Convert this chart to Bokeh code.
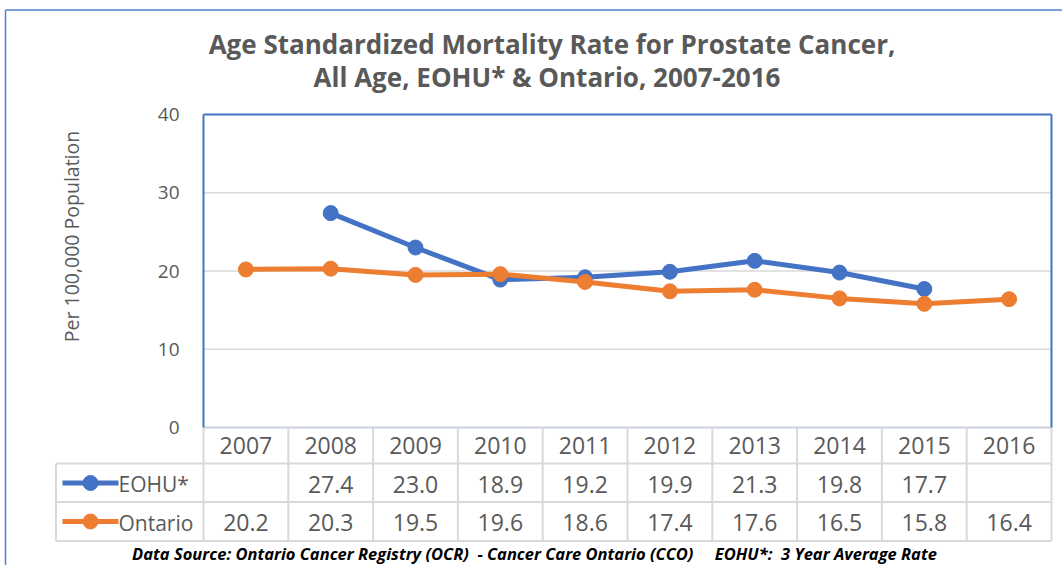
import math
from bokeh.plotting import figure
from bokeh.models import ColumnDataSource, Range1d, FixedTicker, Label
from bokeh.core.properties import value
from bokeh.embed import file_html
from bokeh.resources import INLINE

# ---------------- data ----------------
years = ["2007", "2008", "2009", "2010", "2011", "2012", "2013", "2014", "2015", "2016"]
eohu = [None, 27.4, 23.0, 18.9, 19.2, 19.9, 21.3, 19.8, 17.7, None]
ontario = [20.2, 20.3, 19.5, 19.6, 18.6, 17.4, 17.6, 16.5, 15.8, 16.4]
series_names = ["EOHU*", "Ontario"]
y_ticks = [0, 10, 20, 30, 40]

title_lines = ["Age Standardized Mortality Rate for Prostate Cancer,",
               "All Age, EOHU* & Ontario, 2007-2016"]
y_label = "Per 100,000 Population"
NB = "\u00a0"
footnote = ("Data Source: Ontario Cancer Registry (OCR) " + NB + "- Cancer Care Ontario (CCO)"
            + NB * 4 + " EOHU*:" + NB + " 3 Year Average Rate")

# ---------------- styling / layout (page pixels) ----------------
BLUE = "#4472C4"
ORANGE = "#ED7D31"
GREY_TXT = "#595959"
GRID = "#D9D9D9"
FONT = "Open Sans"

W, H = 1062, 565
n = len(years)
PLOT_L, PLOT_R, PLOT_T, PLOT_B = 203, 1051, 114, 427
Y_MAX = y_ticks[-1]
XU = (PLOT_R - PLOT_L) / n
YU = (PLOT_B - PLOT_T) / Y_MAX


def dx(px):
    return -0.5 + (px - PLOT_L) / XU


def dy(py):
    return (PLOT_B - py) / YU


p = figure(
    width=W, height=H,
    x_range=Range1d(dx(0), dx(W)), y_range=Range1d(dy(H), dy(0)),
    output_backend="svg", toolbar_location=None, x_axis_location=None,
    min_border_left=0, min_border_right=0, min_border_top=0, min_border_bottom=0,
)
p.outline_line_color = None
p.background_fill_color = "white"
p.border_fill_color = "white"
p.xgrid.visible = False
p.ygrid.visible = False

# y axis fixed at the left edge of the plot area
yax = p.yaxis[0]
yax.fixed_location = -0.5
yax.ticker = FixedTicker(ticks=y_ticks)
yax.axis_line_color = None
yax.major_tick_line_color = None
yax.minor_tick_line_color = None
yax.major_label_text_font = FONT
yax.major_label_text_font_size = "19px"
yax.major_label_text_color = GREY_TXT
yax.major_label_standoff = 18

xs = list(range(n))
x_lo, x_hi = -0.5, n - 0.5

# outer chart border (top and left)
p.segment(x0=[dx(5), dx(5)], x1=[dx(W + 5), dx(5)], y0=[dy(9.5), dy(9.5)], y1=[dy(9.5), dy(H + 5)],
          line_color="#4F7FD3", line_width=1.5)

# gridlines inside plot area
inner = y_ticks[1:-1]
p.segment(x0=[x_lo] * len(inner), x1=[x_hi] * len(inner), y0=inner, y1=inner,
          line_color=GRID, line_width=1.5)

# table lines
r1, r2, r3 = dy(463), dy(501.5), dy(540.5)
lab_l = dx(55.5)
p.segment(x0=[x_lo], x1=[x_hi], y0=[0], y1=[0], line_color="#C9D0E0", line_width=2)
p.segment(x0=[lab_l] * 3, x1=[x_hi] * 3, y0=[r1, r2, r3], y1=[r1, r2, r3],
          line_color=GRID, line_width=2)
vx = [x_lo + k for k in range(n + 1)]
p.segment(x0=vx, x1=vx, y0=[0] * len(vx), y1=[r3] * len(vx), line_color=GRID, line_width=2)
p.segment(x0=[lab_l], x1=[lab_l], y0=[r1], y1=[r3], line_color=GRID, line_width=2)

# plot area border (left, top, right)
p.segment(x0=[x_lo, x_lo, x_hi], x1=[x_lo, x_hi, x_hi], y0=[0, Y_MAX, Y_MAX], y1=[Y_MAX, Y_MAX, 0],
          line_color=BLUE, line_width=2)

# series
nan = float("nan")
eohu_v = [nan if v is None else v for v in eohu]
ont_v = [nan if v is None else v for v in ontario]
for vals, col in ((eohu_v, BLUE), (ont_v, ORANGE)):
    src = ColumnDataSource(dict(x=xs, y=vals))
    p.line("x", "y", source=src, line_color=col, line_width=5)
    p.scatter("x", "y", source=src, marker="circle", size=15, fill_color=col, line_color=col)


def fmt(v):
    return "" if v is None else f"{v:.1f}"


# table texts
TSIZE = "23px"
hy, ey, oy = dy(445), dy(483.5), dy(522)
for yy, labels in ((hy, years), (ey, [fmt(v) for v in eohu]), (oy, [fmt(v) for v in ontario])):
    p.text(x=xs, y=[yy] * n, text=labels, text_font=value(FONT), text_font_size=TSIZE,
           text_align="center", text_baseline="middle", text_color=GREY_TXT)

# legend keys in table
lx0, lx1, lxc, ltx = dx(62), dx(118), dx(90), dx(118)
for ky, ty, col, name in ((dy(482.5), ey, BLUE, series_names[0]), (dy(521), oy, ORANGE, series_names[1])):
    p.segment(x0=[lx0], x1=[lx1], y0=[ky], y1=[ky], line_color=col, line_width=5)
    p.scatter(x=[lxc], y=[ky], marker="circle", size=15, fill_color=col, line_color=col)
    p.text(x=[ltx], y=[ty], text=[name], text_font=value(FONT), text_font_size="21px",
           text_align="left", text_baseline="middle", text_color=GREY_TXT)

# title
for (cx, cy), line in zip(((551.5, 43), (546.5, 76)), title_lines):
    p.add_layout(Label(x=dx(cx), y=dy(cy), text=line, text_align="center", text_baseline="middle",
                       text_font=FONT, text_font_style="bold", text_font_size="26px",
                       text_color=GREY_TXT))

# y axis title
p.add_layout(Label(x=dx(71), y=dy(236), text=y_label, angle=math.pi / 2,
                   text_align="center", text_baseline="middle",
                   text_font=FONT, text_font_size="19.5px", text_color=GREY_TXT))

# footnote
p.add_layout(Label(x=dx(534), y=dy(553), text=footnote,
                   text_align="center", text_baseline="middle",
                   text_font=FONT, text_font_style="bold italic", text_font_size="16.5px",
                   text_color="black"))

open("out.html", "w").write(file_html(p, INLINE))
